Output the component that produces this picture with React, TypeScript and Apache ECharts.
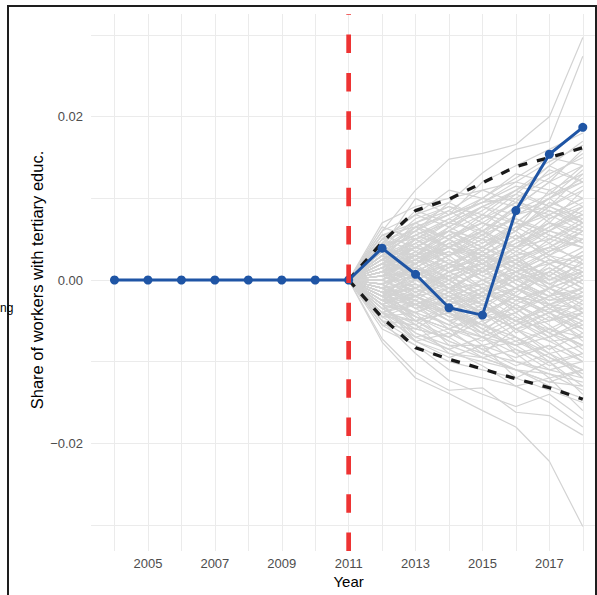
import React, { useEffect, useRef } from "react";
import * as echarts from "echarts";

// ---------- data ----------
const years = [2004, 2005, 2006, 2007, 2008, 2009, 2010, 2011, 2012, 2013, 2014, 2015, 2016, 2017, 2018];
const treatedGap = [0, 0, 0, 0, 0, 0, 0, 0, 0.0039, 0.0007, -0.0034, -0.0043, 0.0085, 0.0154, 0.0187];
const postYears = [2011, 2012, 2013, 2014, 2015, 2016, 2017, 2018];
const upperBand = [0, 0.0046, 0.0085, 0.0099, 0.0119, 0.0139, 0.015, 0.0162];
const lowerBand = [0, -0.0046, -0.0083, -0.0097, -0.0109, -0.0121, -0.0132, -0.0146];
const treatmentYear = 2011;
const xTickLabels = [2005, 2007, 2009, 2011, 2013, 2015, 2017];
const yTickLabels = [-0.02, 0, 0.02];
const xAxisTitle = "Year";
const yAxisTitle = "Share of workers with tertiary educ.";
const leftCutText = "ng";
const PERMILLE = 0.001;
// placebo gaps in thousandths, years 2011..2018
const placeboGapsPermille: number[][] = [
  [0, 6, 11, 14.8, 15.5, 16.6, 20, 29.7],
  [0, 5, 8, 9.5, 13.1, 16, 17, 27.4],
  [0, 7, 9, 10, 11, 12, 14.5, 16.5],
  [0, 4, 10, 8, 12, 14, 16, 18],
  [0, -7.6, -12, -13.9, -16, -18, -22.2, -30.2],
  [0, -7.2, -11.3, -13.5, -13.2, -16.2, -16.6, -19],
  [0, -5, -9, -12.3, -14, -15.5, -14, -17],
  [0, -6, -8, -11, -12, -13, -15, -18],
  [0, 5.5, 7, 9, 8, 11, 13, 15],
  [0, 4.5, 8.5, 7, 10, 9, 12, 14],
  [0, 3, 6, 8, 9.5, 12, 11, 13],
  [0, 6.5, 5, 7, 9, 10.5, 14, 12],
  [0, 2, 5, 6, 8, 7, 10, 12.5],
  [0, 4, 3, 6, 5, 8, 9, 11],
  [0, 1, 4, 3, 6, 9, 8, 10],
  [0, 3.5, 2, 5, 7, 6, 9.5, 8],
  [0, 2.5, 4.5, 2, 4, 7, 6, 9],
  [0, 5, 6, 4, 3, 5, 7, 6],
  [0, 1.5, 3, 5, 2, 4, 5, 7.5],
  [0, -1, 2, 4, 6, 3, 4, 6],
  [0, 2, 1, 3, 4, 6, 3, 5],
  [0, 0.5, 2.5, 1, 3, 2, 5, 4],
  [0, 3, 0, 2, 1, 4, 2, 3],
  [0, -0.5, 1, 3, 0, 1, 3, 2],
  [0, 1, -1, 0.5, 2, 0, 1, 3.5],
  [0, -2, 0, -1, 1, 3, 0, 1],
  [0, 2, 3, 0, -2, -1, 2, 0],
  [0, 0, -2, 1, -1, -3, -1, 0.5],
  [0, -1.5, -1, -3, -2, 0, -2, -1],
  [0, 1, 0, -2, -4, -2, -4, -3],
  [0, -3, -4, -2, -3, -5, -3, -2],
  [0, -2.5, -3, -5, -4, -6, -5, -4],
  [0, -1, -5, -4, -6, -4, -7, -5],
  [0, -4, -3, -6, -7, -8, -6, -7],
  [0, -3.5, -6, -7, -5, -9, -8, -10],
  [0, -2, -4, -8, -8, -7, -10, -9],
  [0, -4.5, -7, -6, -9, -10, -11, -12],
  [0, -5, -5.5, -9, -10, -11, -12.5, -13],
  [0, -1, -2, -4, -7, -9, -12, -11],
  [0, -3, -7.5, -9.5, -8, -12, -10, -14],
  [0, 2, 4, 6, 4, 2, -1, -3],
  [0, -2, 1, 3, 5, 8, 10, 7],
  [0, 4, 2, -1, -3, -5, -6, -8],
  [0, -3, -1, 2, 0, -2, 1, -1],
  [0, 1.5, 3.5, 5.5, 7, 5, 8, 10],
  [0, -1.5, -3.5, -1.5, 1.5, 4, 6, 5],
  [0, 3, 5, 2.5, 0.5, 2.5, 4.5, 2],
  [0, -2, -5, -7, -4, -2, -3, -6],
  [0, 0.5, -1.5, -3.5, -5.5, -7, -9, -8],
  [0, 2.5, 6.5, 4, 6.5, 10, 7, 11],
  [0, -0.5, 1.5, -0.5, -2.5, 1, -1.5, -4],
  [0, 1, 2, 4.5, 3, 5.5, 2.5, 1],
  [0, -4, -6, -3.5, -6.5, -3, -5.5, -8.5],
  [0, 3.5, 1, -1, 1.5, -1, -3, -5],
  [0, -1, 0, 1.5, 2.5, -0.5, -2.5, -2],
  [0, 4.5, 7, 5, 8, 6, 11, 9],
  [0, -2.5, -4, -5.5, -3, -6, -8.5, -6.5],
  [0, 0, 3, 6.5, 4.5, 7, 5, 7],
  [0, 1.5, -2, -1, -4.5, -3.5, -6, -4],
  [0, -3, -2, 0.5, -1.5, 2, 0.5, 3],
  [0, 2, 0, -2.5, -1, -4, -2, 0],
  [0, 5, 3.5, 1, 2, 3, 0, 2],
  [0, -0.5, -3, -2, -5, -4, -1, -3],
  [0, 1, 5, 7.5, 5.5, 9, 12, 10],
  [0, -1.5, 0.5, -4, -2, -6.5, -4.5, -7],
  [0, 3, 2, 4, 1, -1, 1, -1],
  [0, -2, -2.5, 0, 3, 1, 3.5, 5],
  [0, 2.5, 4, 3, 5, 4, 6.5, 8],
  [0, -4, -5, -7.5, -9, -6, -9, -11],
  [0, 0.5, 1, -1, -0.5, -2, -4.5, -6],
  [0, 6, 8, 11, 10, 13, 12, 16],
  [0, -5.5, -8, -10, -11, -12, -13.5, -15],
  [0, 1, 3, 1, 3.5, 6.5, 8, 6],
  [0, -1, -2.5, -5, -3.5, -5, -7.5, -9.5],
  [0, 2, 1.5, 3.5, 1, 2.5, -0.5, 1.5],
  [0, -2, -1, -3, -6, -8, -7, -10],
  [0, 3, 4, 6, 9, 11, 14, 17],
  [0, -3, -6.5, -8.5, -10.5, -13, -12, -16],
  [0, 4, 6, 8.5, 11, 9.5, 13.5, 12],
  [0, -0.5, 0.5, 2, -1, 0.5, -1, 2.5],
  [0, 3.5, 5.5, 4, 2, 0, -2, 1],
  [0, -1.5, -4.5, -6, -7.5, -5.5, -3, -1],
  [0, 0, 1.5, 4, 6, 7.5, 5.5, 4],
  [0, -2.5, 0, -1.5, -3.5, -1, 1.5, -0.5],
  [0, 2.5, 1, -1.5, 0, 2, 4, 6.5],
  [0, -3.5, -2, -4, -1.5, -3.5, -6.5, -9],
  [0, 1, 2.5, 0, -3, -5.5, -4, -2],
  [0, 4, 5.5, 7, 6, 4, 7.5, 9.5],
  [0, -1, -3.5, -2.5, 0, -2.5, -4, -6],
  [0, 0.5, -1, 1.5, 4, 2.5, 0.5, -1.5],
  [0, 5.5, 4, 6, 3.5, 6, 9, 7.5],
  [0, -4.5, -3, -5, -8, -9.5, -8, -12],
  [0, 1.5, 4, 2, 3.5, 0.5, -3, -4.5],
  [0, -2, 1, 0, 2, 5, 7, 4.5],
  [0, 2, -0.5, -3, -1.5, 1, -0.5, 1],
  [0, -0.5, 2, 5, 3, 1, 3, 0.5],
  [0, 3, 6, 9.5, 7.5, 10.5, 9, 13],
  [0, -1.5, -2, -3.5, -6, -8.5, -10, -13],
  [0, 4, 6.5, 8, 10, 12.5, 15, 14],
  [0, -4, -6.5, -8, -9.5, -11, -13, -14.5],
  [0, 3, 7, 8.5, 6, 8.5, 10.5, 12],
  [0, -3, -7, -8.5, -7, -10, -11.5, -12.5],
  [0, 2, 4, 6.5, 8.5, 11, 9, 11.5],
  [0, -2, -4.5, -6.5, -8.5, -7.5, -9.5, -11],
  [0, 1.5, 2.5, 4, 5.5, 3.5, 6, 8],
  [0, -1.5, -2.5, -4, -2.5, -5, -7, -5.5],
  [0, 0.5, 3.5, 2, 0, -1.5, 0.5, 3],
  [0, -0.5, -3, -1, 1, 3.5, 2, -0.5],
  [0, 2.5, 0.5, 3, 5, 2, -1, -3.5],
  [0, -2.5, -0.5, -2.5, -4.5, -1.5, 1, 3.5],
  [0, 4.5, 3, 5, 7.5, 9.5, 8.5, 6.5],
  [0, -4.5, -5, -4, -6.5, -8, -10.5, -9],
  [0, 1, -1.5, -0.5, 2.5, 4.5, 6.5, 9],
  [0, -1, 1.5, 0.5, -2, -4.5, -6.5, -8],
  [0, 3.5, 6.5, 5, 3, 5.5, 3.5, 5],
  [0, -3.5, -5.5, -3, -1, -3.5, -2, -4],
  [0, 0, 2, 3.5, 1.5, 3, 5.5, 4],
  [0, 0, -2, -3.5, -1.5, -3, -5, -3.5],
  [0, 5, 8, 6.5, 9, 8, 10, 13.5],
  [0, -5, -7.5, -6.5, -8.5, -10.5, -9, -12],
  [0, 2, 3, 1.5, 4, 6, 9, 7],
  [0, -2, -3, -1.5, -4, -6, -4, -7.5],
  [0, 1, 0.5, 2.5, 0.5, -1, -3.5, -1.5],
  [0, -1, -0.5, -2, -0.5, 1.5, 0, 2],
  [0, 3, 4.5, 7, 9, 7, 10, 12],
  [0, -3, -4.5, -6, -4, -7, -9.5, -11.5],
  [0, 2.5, 5, 3, 5.5, 7.5, 6, 8.5],
  [0, -2.5, -5, -3, -5.5, -7.5, -6, -8],
  [0, 1.5, 1, -1, -2, 0.5, 2.5, 1],
  [0, -1.5, -1, 1, 2, -0.5, -2, 0],
  [0, 4, 2.5, 4.5, 2.5, 4.5, 6, 4.5],
  [0, -4, -2.5, -4.5, -3, -5, -3.5, -5.5],
  [0, 0.5, 2.5, 5, 7, 5, 3, 6],
  [0, -0.5, -2.5, -5, -6.5, -4.5, -6.5, -4],
  [0, 3, 1.5, 0, 1.5, -2, -3, -1.5],
  [0, -3, -1.5, 0, -2, 0, 2.5, 1.5],
  [0, 2, 5.5, 7.5, 9.5, 10, 12.5, 15.5],
  [0, -2, -5.5, -7.5, -9, -11, -11.5, -13.5],
  [0, 1, 3, 4, 2.5, 0, 1.5, -1],
  [0, -1, -3, -4, -5.5, -2.5, -1, 0.5],
  [0, 4, 7.5, 9, 7, 9.5, 7.5, 9],
  [0, -4, -7.5, -9, -9.5, -8.5, -11, -10],
  [0, 2.5, 2, 4.5, 6, 4, 7, 5.5],
  [0, -2.5, -2, -4.5, -5.5, -3, -5, -2.5],
  [0, 0, 1.5, -1, 1, 2.5, 4, 2.5],
  [0, 0, -1.5, 1, -1, -2.5, -1, -2.5],
  [0, 5.5, 6.5, 8, 9.5, 11.5, 10.5, 14],
  [0, -5.5, -6, -7, -9.5, -11, -12.5, -11],
  [0, 3.5, 3, 1.5, 3, 1, 2, 4],
  [0, -3.5, -3, -1.5, -3, -1, -2.5, -1],
  [0, 1.5, 4.5, 6, 4, 6.5, 8.5, 7],
  [0, -1.5, -4.5, -6, -4.5, -2, -4, -6.5],
  [0, 2, -1, 1, 3, 1.5, 3.5, 6],
  [0, -2, 1, -1, -3, -1, -3.5, -5],
  [0, 4.5, 5, 3, 4.5, 6.5, 4.5, 7],
  [0, -4.5, -4, -2.5, -4, -6, -7.5, -7],
  [0, 0.5, 3, 5.5, 3.5, 1.5, -0.5, -2],
  [0, -0.5, -3.5, -5.5, -7, -5, -3, -3.5],
];

// ---------- layout ----------
const X2004 = 114.5;
const PX_PER_YEAR = 33.45;
const Y_ZERO = 280;
const PX_PER_UNIT = 8165;
const PLOT_TOP = 14;
const PLOT_BOTTOM = 551;
const FONT = "'Liberation Sans', Arial, sans-serif";

export default function App() {
  const ref = useRef<HTMLDivElement>(null);
  useEffect(() => {
    if (!ref.current) return;
    const chart = echarts.init(ref.current, undefined, { renderer: "svg" });

    const xMinA = 2003.3;
    const xMaxA = 2018.7;
    const gridALeft = X2004 + (xMinA - 2004) * PX_PER_YEAR;
    const gridAWidth = (xMaxA - xMinA) * PX_PER_YEAR;
    const yMaxA = (Y_ZERO - PLOT_TOP) / PX_PER_UNIT;
    const yMinA = -(PLOT_BOTTOM - Y_ZERO) / PX_PER_UNIT;

    const gridStyle = { color: "#EBEBEB", width: 1 };

    const graySeries = placeboGapsPermille.map((vals, k) => ({
      type: "line",
      name: "placebo" + k,
      xAxisIndex: 0,
      yAxisIndex: 0,
      data: postYears.map((y, i) => [y, vals[i] * PERMILLE]),
      symbol: "none",
      silent: true,
      z: 1,
      lineStyle: { color: "#D3D3D3", width: 1.2 },
      emphasis: { disabled: true },
    }));

    const option: any = {
      animation: false,
      backgroundColor: "#ffffff",
      textStyle: { fontFamily: FONT },
      grid: [
        { left: gridALeft, width: gridAWidth, top: PLOT_TOP, height: PLOT_BOTTOM - PLOT_TOP, outerBoundsMode: "none" },
        { left: X2004, width: 14 * PX_PER_YEAR, top: PLOT_TOP, height: PLOT_BOTTOM - PLOT_TOP, outerBoundsMode: "none" },
        {
          left: gridALeft,
          width: gridAWidth,
          top: Y_ZERO - 0.03 * PX_PER_UNIT,
          height: 0.06 * PX_PER_UNIT,
          outerBoundsMode: "none",
        },
      ],
      xAxis: [
        { type: "value", gridIndex: 0, min: xMinA, max: xMaxA, show: false },
        {
          type: "value",
          gridIndex: 1,
          min: 2004,
          max: 2018,
          interval: 1,
          axisLine: { show: false },
          axisTick: { show: false },
          splitLine: { show: true, lineStyle: gridStyle, showMinLine: true, showMaxLine: true },
          axisLabel: {
            show: true,
            margin: 6,
            fontSize: 13,
            color: "#4D4D4D",
            fontFamily: FONT,
            formatter: (v: number) => (xTickLabels.includes(v) ? String(v) : ""),
          },
          name: xAxisTitle,
          nameLocation: "middle",
          nameGap: 23,
          nameMoveOverlap: false,
          nameTextStyle: { fontSize: 15, color: "#000000", fontFamily: FONT },
        },
        { type: "value", gridIndex: 2, min: 0, max: 1, show: false },
      ],
      yAxis: [
        { type: "value", gridIndex: 0, min: yMinA, max: yMaxA, show: false },
        { type: "value", gridIndex: 1, min: 0, max: 1, show: false },
        {
          type: "value",
          gridIndex: 2,
          min: -0.03,
          max: 0.03,
          interval: 0.01,
          axisLine: { show: false },
          axisTick: { show: false },
          splitLine: { show: true, lineStyle: gridStyle, showMinLine: true, showMaxLine: true },
          axisLabel: {
            show: true,
            margin: 8,
            fontSize: 13,
            color: "#4D4D4D",
            fontFamily: FONT,
            formatter: (v: number) => {
              const hit = yTickLabels.find((t) => Math.abs(t - v) < 1e-9);
              if (hit === undefined) return "";
              const s = Math.abs(hit).toFixed(2);
              return hit < 0 ? "\u2212" + s : s;
            },
          },
          name: yAxisTitle,
          nameLocation: "middle",
          nameGap: 46,
          nameMoveOverlap: false,
          nameTextStyle: { fontSize: 16.5, color: "#000000", fontFamily: FONT },
        },
      ],
      series: [
        ...graySeries,
        {
          type: "line",
          name: "upper",
          xAxisIndex: 0,
          yAxisIndex: 0,
          data: postYears.map((y, i) => [y, upperBand[i]]),
          symbol: "none",
          silent: true,
          z: 3,
          lineStyle: { color: "#1A1A1A", width: 3.3, type: [9, 10] },
        },
        {
          type: "line",
          name: "lower",
          xAxisIndex: 0,
          yAxisIndex: 0,
          data: postYears.map((y, i) => [y, lowerBand[i]]),
          symbol: "none",
          silent: true,
          z: 3,
          lineStyle: { color: "#1A1A1A", width: 3.3, type: [9, 10] },
        },
        {
          type: "line",
          name: "treated",
          xAxisIndex: 0,
          yAxisIndex: 0,
          data: years.map((y, i) => [y, treatedGap[i]]),
          symbol: "circle",
          symbolSize: 9,
          silent: true,
          z: 4,
          itemStyle: { color: "#1F55A5" },
          lineStyle: { color: "#1F55A5", width: 3 },
        },
        {
          type: "line",
          name: "treatment",
          xAxisIndex: 0,
          yAxisIndex: 0,
          data: [
            [treatmentYear, yMinA],
            [treatmentYear, yMaxA],
          ],
          symbol: "none",
          silent: true,
          z: 5,
          lineStyle: { color: "#EE3333", width: 4.7, type: [18.5, 19.8] },
        },
      ],
      graphic: [
        { type: "line", shape: { x1: 7, y1: 6, x2: 597, y2: 6 }, style: { stroke: "#1E1E1E", lineWidth: 2 }, z: 100 },
        { type: "line", shape: { x1: 8, y1: 5, x2: 8, y2: 595 }, style: { stroke: "#1E1E1E", lineWidth: 2 }, z: 100 },
        { type: "line", shape: { x1: 596, y1: 5, x2: 596, y2: 595 }, style: { stroke: "#1E1E1E", lineWidth: 2 }, z: 100 },
        {
          type: "text",
          x: 0,
          y: 308,
          z: 100,
          style: { text: leftCutText, fontSize: 12, fill: "#000", textAlign: "left", textVerticalAlign: "middle", fontFamily: FONT },
        },
      ],
    };

    chart.setOption(option);
    return () => chart.dispose();
  }, []);

  return (
    <div
      style={{
        position: "fixed",
        left: 0,
        top: 0,
        width: 597,
        height: 595,
        overflow: "hidden",
        background: "#ffffff",
      }}
    >
      <div ref={ref} style={{ width: 640, height: 595 }} />
    </div>
  );
}
